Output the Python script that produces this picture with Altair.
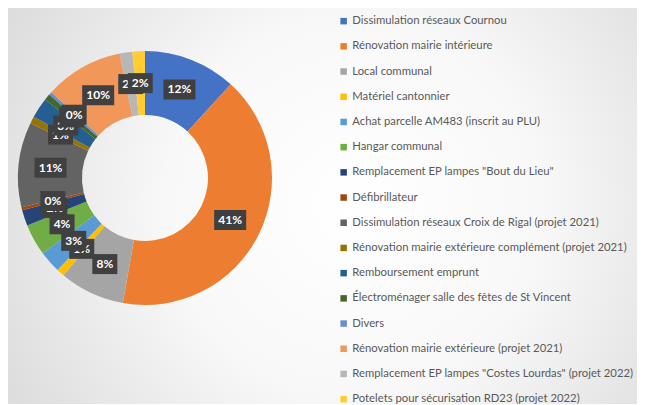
import altair as alt
import pandas as pd

categories = [
    "Dissimulation réseaux Cournou",
    "Rénovation mairie intérieure",
    "Local communal",
    "Matériel cantonnier",
    "Achat parcelle AM483 (inscrit au PLU)",
    "Hangar communal",
    'Remplacement EP lampes "Bout du Lieu"',
    "Défibrillateur",
    "Dissimulation réseaux Croix de Rigal (projet 2021)",
    "Rénovation mairie extérieure complément (projet 2021)",
    "Remboursement emprunt",
    "Électroménager salle des fêtes de St Vincent",
    "Divers",
    "Rénovation mairie extérieure (projet 2021)",
    'Remplacement EP lampes "Costes Lourdas" (projet 2022)',
    "Potelets pour sécurisation RD23 (projet 2022)",
]
values = [11.8, 41.0, 8.3, 1.0, 2.8, 4.0, 2.0, 0.4, 10.8, 0.9, 2.6, 0.8, 0.4, 10.0, 1.6, 1.6]
colors = ["#4472C4", "#ED7D31", "#A5A5A5", "#FFC000", "#5B9BD5", "#70AD47",
          "#264478", "#9E480E", "#636363", "#997300", "#255E91", "#43682B",
          "#698ED0", "#F1975A", "#B7B7B7", "#FFCD33"]

df = pd.DataFrame({"cat": categories, "val": values, "idx": list(range(len(categories)))})

W, H = 629, 396
CX, CY = 137, 170
R_OUT, R_IN, R_LAB = 127, 63, 95
FONT = "Lato"

bg = alt.Chart(pd.DataFrame({"a": [0]})).mark_rect(
    fill={"gradient": "radial", "x1": 0.55, "y1": 0.5, "r1": 0,
          "x2": 0.55, "y2": 0.5, "r2": 0.75,
          "stops": [{"offset": 0, "color": "#ffffff"},
                    {"offset": 0.4, "color": "#f8f8f8"},
                    {"offset": 1, "color": "#d2d2d2"}]}
).encode(x=alt.value(0), x2=alt.value(W), y=alt.value(0), y2=alt.value(H))

arc = alt.Chart(df).mark_arc(outerRadius=R_OUT, innerRadius=R_IN).encode(
    theta=alt.Theta("val:Q", stack=True),
    order=alt.Order("idx:Q"),
    color=alt.Color(
        "cat:N",
        scale=alt.Scale(domain=categories, range=colors),
        legend=alt.Legend(title=None, orient="none", legendX=330, legendY=7.5,
                          symbolType="square", symbolSize=42, symbolStrokeWidth=0,
                          labelFont=FONT, labelFontSize=11.3, labelColor="#595959",
                          rowPadding=13.2, labelLimit=400, labelOffset=3, padding=0),
    ),
    x=alt.value(CX), y=alt.value(CY),
)

lab = alt.Chart(df).transform_joinaggregate(total="sum(val)").transform_window(
    cum="sum(val)", sort=[alt.SortField("idx")], frame=[None, 0]
).transform_calculate(
    mid="(datum.cum - datum.val/2)/datum.total*2*PI",
    lx=f"{R_LAB}*sin(datum.mid)",
    ly=f"-{R_LAB}*cos(datum.mid)",
    txt="format(datum.val/datum.total, '.0%')",
    w="length(datum.txt) > 2 ? 'w3' : 'w2'",
)

xs = alt.X("lx:Q", scale=alt.Scale(domain=[-R_OUT, R_OUT], range=[CX - R_OUT, CX + R_OUT]), axis=None)
ys = alt.Y("ly:Q", scale=alt.Scale(domain=[-R_OUT, R_OUT], range=[CY - R_OUT, CY + R_OUT]), axis=None)
p3 = "M-1.6,-1L1.6,-1L1.6,1L-1.6,1Z"
p2 = "M-1.25,-1L1.25,-1L1.25,1L-1.25,1Z"
shp = alt.Shape("w:N", scale=alt.Scale(domain=["w2", "w3"], range=[p2, p3]), legend=None)

layers = [bg, arc]
for i in range(len(categories)):
    f = lab.transform_filter(f"datum.idx == {i}")
    layers.append(f.mark_point(filled=True, opacity=1, color="#404040", size=400, strokeWidth=0).encode(x=xs, y=ys, shape=shp))
    layers.append(f.mark_text(font=FONT, fontSize=12, fontWeight="bold", color="white").encode(x=xs, y=ys, text="txt:N"))

chart = alt.layer(*layers).properties(
    width=W, height=H, padding=0, autosize="none"
).configure_view(stroke=None)

chart.save("out.html", embed_options={"renderer": "svg", "actions": False})
